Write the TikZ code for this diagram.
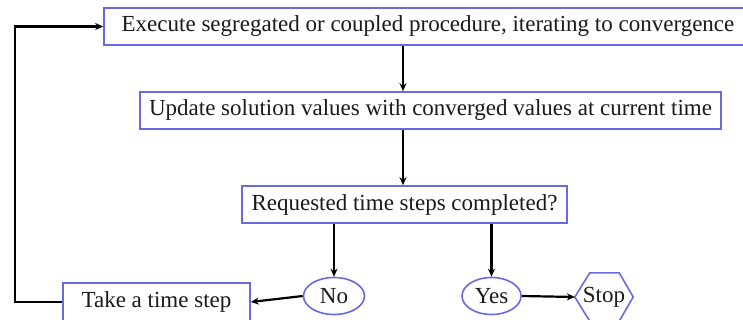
\documentclass[tikz,border=0pt]{standalone}
\usepackage{fontspec}
\setmainfont{Liberation Serif}
\usetikzlibrary{shapes.geometric,arrows.meta}
\definecolor{edgeblue}{HTML}{6A6AE0}
\definecolor{inkdark}{HTML}{1A1A1A}
\tikzset{
  labelfont/.style={font=\fontsize{23}{27}\selectfont},
  procbox/.style={draw=edgeblue, line width=1.6pt, fill=white, inner sep=0pt,
    text=inkdark, labelfont},
  answer/.style={ellipse, draw=edgeblue, line width=1.6pt, inner sep=0pt,
    text=inkdark, labelfont},
  flow/.style={draw=black, line width=2.2pt, -{Stealth[length=8pt,width=7pt]}}
}
\begin{document}
\begin{tikzpicture}[x=1pt,y=-1pt]
\useasboundingbox (0,0) rectangle (743,320);
% process boxes
\node[procbox, minimum width=640pt, minimum height=37pt] (exec) at (424,26.5)
  {\hspace*{8pt}Execute segregated or coupled procedure, iterating to convergence};
\node[procbox, minimum width=581pt, minimum height=37pt] (upd) at (430.5,110.5)
  {Update solution values with converged values at current time};
\node[procbox, minimum width=325pt, minimum height=37pt] (done) at (404.5,204.5)
  {Requested time steps completed?};
\node[procbox, minimum width=187pt, minimum height=38pt] (take) at (156.5,302)
  {Take a time step};
% answers
\node[answer, minimum width=61pt, minimum height=37pt] (no) at (334,296) {No};
\node[answer, minimum width=59pt, minimum height=37pt] (yes) at (491.5,296) {Yes};
% stop hexagon
\node[inner sep=0pt, minimum width=58pt, minimum height=48pt, text=inkdark,
  labelfont] (stop) at (604,297) {Stop};
\draw[edgeblue, line width=1.6pt]
  (stop.west) -- ([xshift=15pt]stop.north west) -- ([xshift=-14pt]stop.north east)
  -- (stop.east) -- ([xshift=-14pt]stop.south east) -- ([xshift=15pt]stop.south west) -- cycle;
% connectors
\coordinate (spine) at (403,0);
\coordinate (loop) at (15,0);
\draw[flow] (exec.south -| spine) -- (upd.north -| spine);
\draw[flow] (upd.south -| spine) -- (done.north -| spine);
\draw[flow] (done.south -| no) -- (no.north);
\draw[flow] (done.south -| yes) -- (yes.north);
\draw[flow] (no.west) -- (take.east);
\draw[flow] (yes.east) -- (stop.west);
\draw[flow] (take.west) -- (take.west -| loop) -- (loop |- exec.west) -- (exec.west);
\end{tikzpicture}
\end{document}
